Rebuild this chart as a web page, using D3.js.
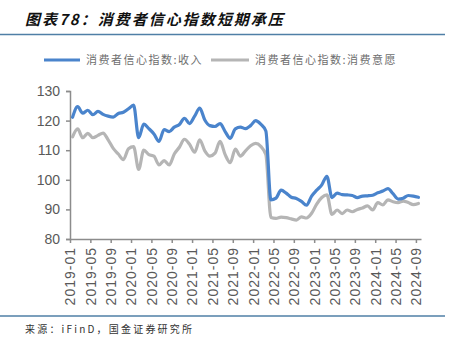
<!DOCTYPE html>
<html><head><meta charset="utf-8">
<script src="https://cdn.jsdelivr.net/npm/d3@7"></script>
<style>
html,body{margin:0;padding:0;background:#fff;}
svg{display:block;}
</style></head>
<body>
<svg id="chart" width="451" height="341"></svg>
<script>
const titleText = "图表78：消费者信心指数短期承压";
const sourceText = "来源：iFinD，国金证券研究所";
const seriesNames = ["消费者信心指数:收入", "消费者信心指数:消费意愿"];
const months = d3.timeMonth.range(new Date(2019,0,1), new Date(2024,9,1)).map(d3.timeFormat("%Y-%m"));
const tickLabels = ["2019-01","2019-05","2019-09","2020-01","2020-05","2020-09","2021-01","2021-05","2021-09","2022-01","2022-05","2022-09","2023-01","2023-05","2023-09","2024-01","2024-05","2024-09"];
const yTicks = [80, 90, 100, 110, 120, 130];
const incomeValues = [
  121.1,124.7,122.5,123.5,122.0,123.1,122.1,121.5,121.2,122.4,122.8,124.0,
  125.2,114.2,118.8,117.3,115.5,113.0,117.0,116.3,117.8,118.7,120.8,119.0,
  121.5,124.2,120.2,118.3,118.0,119.0,116.3,114.0,117.2,117.8,117.3,118.3,
  120.0,118.8,116.5,93.2,93.8,96.5,95.5,94.1,93.7,92.7,91.4,94.5,
  96.5,98.3,101.2,94.0,95.5,95.0,94.9,94.7,94.0,94.5,94.6,94.8,
  95.6,96.2,97.0,95.3,93.5,93.8,94.7,94.5,94.1
];
const willingnessValues = [
  114.5,117.2,114.2,115.7,114.2,115.0,115.8,113.5,110.6,108.7,106.8,110.5,
  111.2,103.5,110.0,108.5,108.0,105.0,106.5,105.0,108.7,111.0,113.7,112.0,
  109.3,113.5,109.8,108.0,109.0,113.0,108.5,105.8,110.4,108.0,109.8,111.5,
  112.3,111.3,108.5,87.3,87.0,87.4,87.2,86.8,86.4,87.5,87.1,88.7,
  91.8,94.0,94.9,88.3,89.8,88.6,89.8,89.2,90.0,90.5,91.2,89.8,
  92.3,91.5,93.2,92.6,92.3,92.8,92.3,91.6,92.0
];
const colors = ["#4a84cc", "#b5b5b5"];

const svg = d3.select("#chart");
const textGray = "#595959";

// Title
svg.append("text").attr("x", 25).attr("y", 25)
  .attr("font-family", "'Noto Sans CJK SC', sans-serif")
  .attr("font-size", 15).attr("font-weight", "bold").attr("font-style", "italic")
  .attr("letter-spacing", 2).attr("fill", "#111").text(titleText);
svg.append("line").attr("x1", 0).attr("x2", 445).attr("y1", 34.5).attr("y2", 34.5)
  .attr("stroke", "#4f7fa6").attr("stroke-width", 1.5);

// Scales
const x = d3.scaleLinear().domain([0, months.length]).range([70, 421]);
const y = d3.scaleLinear().domain([80, 130]).range([239, 91]);

// Y axis
const yAxis = svg.append("g").attr("transform", "translate(70,0)")
  .call(d3.axisLeft(y).tickValues(yTicks).tickSize(4).tickPadding(6).tickFormat(d3.format("d")));
yAxis.select(".domain").attr("stroke", "#8c8c8c").attr("stroke-width", 1.5);
yAxis.selectAll(".tick line").attr("stroke", "#8c8c8c").attr("stroke-width", 1.5);
yAxis.selectAll(".tick text").attr("font-family", "'Liberation Sans', Arial, sans-serif")
  .attr("font-size", 14).attr("fill", textGray);

// X axis
const tickIdx = tickLabels.map(l => months.indexOf(l));
const xAxis = svg.append("g").attr("transform", "translate(0,239)")
  .call(d3.axisBottom(x).tickValues(tickIdx).tickSize(4).tickSizeOuter(0)
    .tickFormat(i => months[i]));
xAxis.select(".domain").attr("stroke", "#8c8c8c").attr("stroke-width", 1.5);
xAxis.selectAll(".tick line").attr("stroke", "#8c8c8c").attr("stroke-width", 1.5);
xAxis.selectAll(".tick text")
  .attr("font-family", "'Liberation Sans', Arial, sans-serif")
  .attr("font-size", 14).attr("fill", textGray).attr("letter-spacing", 1)
  .attr("text-anchor", "end").attr("dy", "0.35em")
  .attr("transform", "translate(0,8) rotate(-90)")
  .attr("x", 0).attr("y", 0);

// Lines
const line = d3.line().x((d, i) => x(i + 0.5)).y(d => y(d)).curve(d3.curveMonotoneX);
[willingnessValues, incomeValues].forEach((vals, k) => {
  svg.append("path").datum(vals).attr("d", line).attr("fill", "none")
    .attr("stroke", k === 0 ? colors[1] : colors[0]).attr("stroke-width", 3.2)
    .attr("stroke-linejoin", "round").attr("stroke-linecap", "round");
});

// Legend
const legendItems = [
  {name: seriesNames[0], color: colors[0], x1: 44, x2: 80, tx: 86},
  {name: seriesNames[1], color: colors[1], x1: 211, x2: 249, tx: 255}
];
legendItems.forEach(it => {
  svg.append("line").attr("x1", it.x1).attr("x2", it.x2).attr("y1", 60).attr("y2", 60)
    .attr("stroke", it.color).attr("stroke-width", 3.2);
  svg.append("text").attr("x", it.tx).attr("y", 64)
    .attr("font-family", "'Noto Sans CJK SC', sans-serif").attr("font-size", 11)
    .attr("letter-spacing", 1.5).attr("fill", "#6e6e6e").text(it.name);
});

// Bottom rule and source
svg.append("line").attr("x1", 0).attr("x2", 445).attr("y1", 316).attr("y2", 316)
  .attr("stroke", "#4f7fa6").attr("stroke-width", 1.5);
svg.append("text").attr("x", 25).attr("y", 333)
  .attr("font-family", "'Noto Sans CJK SC', sans-serif").attr("font-size", 10)
  .attr("letter-spacing", 2.2).attr("fill", "#333").text(sourceText);
</script>
</body></html>
